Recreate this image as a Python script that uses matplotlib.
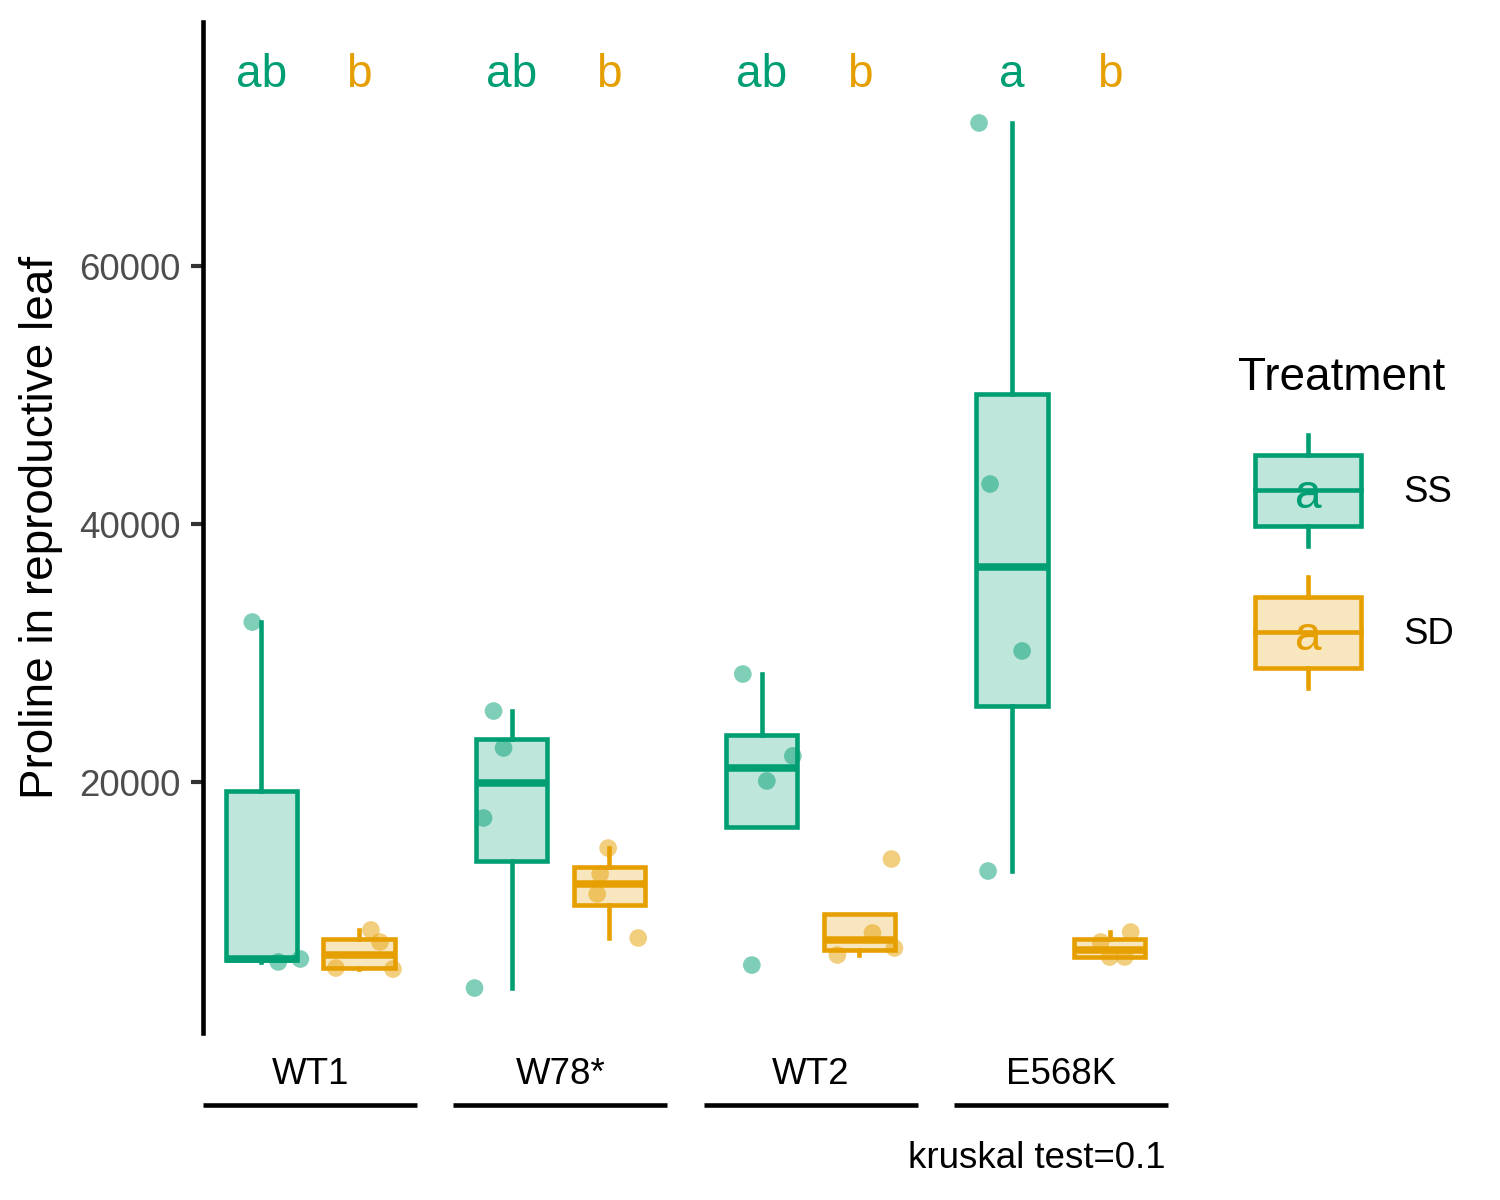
import matplotlib.pyplot as plt
from matplotlib import cbook
from matplotlib.colors import to_rgba
from matplotlib.patches import Rectangle

plt.rcParams['font.family'] = ['Liberation Sans', 'DejaVu Sans']

# --- data ---
genotypes = ["WT1", "W78*", "WT2", "E568K"]
treatments = ["SS", "SD"]
colors = {"SS": "#009E73", "SD": "#E69F00"}

ss_values = [
    [32400, 6050, 6280],
    [25500, 22640, 17210, 4030],
    [28370, 22020, 20080, 5810],
    [71090, 43100, 30160, 13100],
]
sd_values = [
    [8530, 7600, 5580, 5500],
    [14880, 12870, 11320, 7910],
    [14030, 8300, 7130, 6590],
    [8370, 7600, 6430, 6430],
]

# horizontal jitter of each point (group units), as seen in the picture
ss_jitter = [
    [-0.036, 0.068, 0.156],
    [-0.072, -0.032, -0.112, -0.148],
    [-0.076, 0.124, 0.02, -0.04],
    [-0.132, -0.088, 0.04, -0.096],
]
sd_jitter = [
    [0.048, 0.084, -0.092, 0.136],
    [-0.004, -0.036, -0.048, 0.116],
    [0.128, 0.052, 0.14, -0.088],
    [0.084, -0.036, 0.0, 0.06],
]

ss_letters = ["ab", "ab", "ab", "a"]
sd_letters = ["b", "b", "b", "b"]
letter_y = 74800

caption = "kruskal test=0.1"
ylabel = "Proline in reproductive leaf"

# --- figure ---
W, H = 1500, 1200
fig = plt.figure(figsize=(5, 4), dpi=300)
ax = fig.add_axes([203 / W, 1 - 1033 / H, (1168 - 203) / W, (1033 - 22) / H])
ax.set_xlim(0.572, 4.428)
ax.set_ylim(543, 78915)

lw = 1.1
dodge = 0.195
series = {"SS": (ss_values, ss_jitter, ss_letters, -dodge),
          "SD": (sd_values, sd_jitter, sd_letters, dodge)}

for t in treatments:
    vals, jit, letters, off = series[t]
    c = colors[t]
    pos = [i + 1 + off for i in range(len(genotypes))]
    stats = [cbook.boxplot_stats(v, whis=1.5)[0] for v in vals]
    ax.bxp(stats, positions=pos, widths=0.285, patch_artist=True,
           showfliers=False, showcaps=False, manage_ticks=False,
           boxprops=dict(facecolor=to_rgba(c, 0.25), edgecolor=c, linewidth=lw),
           whiskerprops=dict(color=c, linewidth=lw),
           medianprops=dict(color=c, linewidth=1.8, solid_capstyle='butt'),
           zorder=3)
    for i, (v, j) in enumerate(zip(vals, jit)):
        ax.scatter([pos[i] + dj for dj in j], v, s=18, color=c, alpha=0.5,
                   edgecolors='none', zorder=4)
        ax.text(pos[i], letter_y, letters[i], color=c, fontsize=11,
                ha='center', va='center')

# axes styling (classic look)
for s in ["top", "right", "bottom"]:
    ax.spines[s].set_visible(False)
ax.spines["left"].set_linewidth(1.1)
ax.spines["left"].set_color("black")
ax.set_yticks([20000, 40000, 60000])
ax.set_yticklabels(["20000", "40000", "60000"])
ax.tick_params(axis='y', length=3, width=1.0, color='#333333', pad=2.4,
               labelsize=8.8, labelcolor='#4D4D4D')
ax.set_xticks(range(1, len(genotypes) + 1))
ax.set_xticklabels(genotypes)
ax.tick_params(axis='x', length=0, pad=5.7, labelsize=8.8, labelcolor='black')
ax.set_ylabel(ylabel, fontsize=11, ha='center', va='center')
ax.yaxis.set_label_coords((41 - 203) / 965, 0.5)

# bracket lines under each genotype label
tr = ax.get_xaxis_transform()
for i in range(len(genotypes)):
    ax.plot([i + 1 - 0.428, i + 1 + 0.428], [-0.0712, -0.0712], transform=tr,
            clip_on=False, color='black', linewidth=1.1, solid_capstyle='butt')

# overlay in pixel coordinates for legend and caption
ov = fig.add_axes([0, 0, 1, 1], facecolor='none')
ov.set_xlim(0, W)
ov.set_ylim(H, 0)
ov.axis('off')

ov.text(1166, 1159, caption, fontsize=8.8, ha='right', va='center')
ov.text(1238, 378, "Treatment", fontsize=11, ha='left', va='center')

key_tops = {"SS": 455, "SD": 597}
for t in treatments:
    c = colors[t]
    top = key_tops[t]
    bottom = top + 71
    mid = top + 35
    ov.add_patch(Rectangle((1255, top), 106, 71, facecolor=to_rgba(c, 0.25),
                           edgecolor=c, linewidth=lw))
    ov.plot([1255, 1361], [mid, mid], color=c, linewidth=lw)
    ov.plot([1308, 1308], [top - 20, top], color=c, linewidth=lw)
    ov.plot([1308, 1308], [bottom, bottom + 20], color=c, linewidth=lw)
    ov.text(1308, mid + 18, "a", color=c, fontsize=11.5, ha='center',
            va='baseline')
    ov.text(1403, mid + 3, t, fontsize=8.8, ha='left', va='center')

fig.savefig("out.png", dpi=300)
